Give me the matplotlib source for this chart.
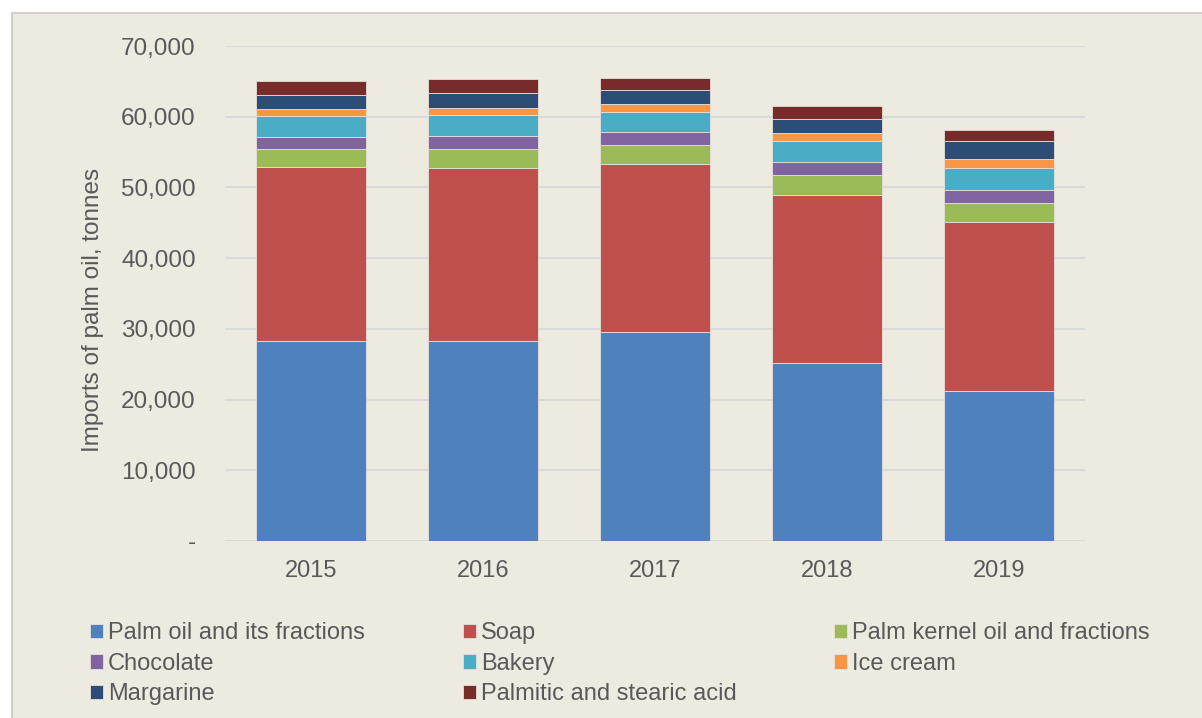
import matplotlib.pyplot as plt
import numpy as np
from matplotlib.patches import Rectangle
from matplotlib.ticker import FuncFormatter

plt.rcParams['font.family'] = ['Liberation Sans', 'DejaVu Sans']

years = ['2015', '2016', '2017', '2018', '2019']
palm_oil = [28320, 28280, 29600, 25170, 21210]
soap = [24520, 24510, 23670, 23710, 23900]
palm_kernel = [2590, 2640, 2720, 2830, 2680]
chocolate = [1740, 1840, 1800, 1840, 1880]
bakery = [2970, 2920, 2910, 3010, 3120]
ice_cream = [990, 1040, 1130, 1170, 1220]
margarine = [1890, 2080, 1900, 1980, 2590]
palmitic = [2030, 1970, 1780, 1760, 1560]

series = [
    ('Palm oil and its fractions', palm_oil, '#4F81BD'),
    ('Soap', soap, '#C0504D'),
    ('Palm kernel oil and fractions', palm_kernel, '#9BBB59'),
    ('Chocolate', chocolate, '#8064A2'),
    ('Bakery', bakery, '#4BACC6'),
    ('Ice cream', ice_cream, '#F79646'),
    ('Margarine', margarine, '#2C4D75'),
    ('Palmitic and stearic acid', palmitic, '#772C2A'),
]

bg = '#EDEBE0'
text_col = '#595959'

fig = plt.figure(figsize=(12.02, 7.18), dpi=100, facecolor='white')
# beige chart area with a thin grey frame, as in the source
frame = Rectangle((12 / 1202, -0.01), 1.0, (718 - 13) / 718 + 0.01,
                  transform=fig.transFigure, facecolor=bg,
                  edgecolor='#C8C8C8', linewidth=1.2, zorder=-10)
fig.patches.append(frame)

ax = fig.add_axes([225 / 1202, 177 / 718, 860 / 1202, 495 / 718])
ax.patch.set_alpha(0)

x = np.arange(len(years))
bottom = np.zeros(len(years))
handles = []
for name, vals, col in series:
    b = ax.bar(x, vals, 0.645, bottom=bottom, color=col, label=name,
               edgecolor='#E6E0DA', linewidth=0.6, zorder=3)
    handles.append(b)
    bottom += np.array(vals)

ax.set_xlim(-0.5, len(years) - 0.5)
ax.set_ylim(0, 70000)
ax.set_yticks(np.arange(0, 70001, 10000))
ax.yaxis.set_major_formatter(FuncFormatter(lambda v, p: '-' if v == 0 else f'{int(v):,}'))
ax.set_xticks(x)
ax.set_xticklabels(years)
ax.grid(axis='y', color='#D9D9D9', linewidth=1.5, zorder=0)
for s in ax.spines.values():
    s.set_visible(False)
ax.tick_params(axis='both', length=0, colors=text_col)
ax.tick_params(axis='y', pad=21, labelsize=17.5)
ax.tick_params(axis='x', pad=14, labelsize=17)
ax.set_ylabel('Imports of palm oil, tonnes', fontsize=17.5, color=text_col)
ax.yaxis.set_label_coords(-0.1407, 0.4667)

# legend filled row by row like the original
order = [0, 3, 6, 1, 4, 7, 2, 5]
leg = fig.legend([handles[i] for i in order], [series[i][0] for i in order],
                 loc='upper left', bbox_to_anchor=(81 / 1202, 1 - 613 / 718),
                 ncol=3, frameon=False, fontsize=17, labelcolor=text_col,
                 handlelength=0.55, handleheight=0.55, handletextpad=0.2,
                 columnspacing=4.15, labelspacing=0.36, borderaxespad=0)

fig.savefig('out.png', dpi=100, facecolor='white')
